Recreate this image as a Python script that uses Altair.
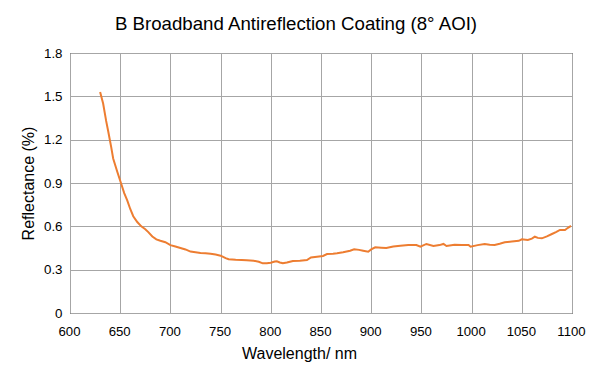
import altair as alt
import pandas as pd

wavelength = [630, 633, 636, 638, 641, 643, 647, 651, 654, 657, 660, 663, 667, 671, 675, 678,
              682, 686, 690, 695, 700, 705, 710, 715, 720, 725, 730, 735, 740, 745, 750, 752,
              755, 758, 765, 771, 776, 783, 788, 792, 796, 800, 804, 806, 809, 812, 816, 822,
              829, 836, 840, 846, 852, 856, 862, 866, 872, 879, 883, 888, 892, 897, 900, 904,
              910, 915, 922, 929, 937, 945, 949, 955, 962, 968, 972, 975, 983, 990, 997, 999,
              1006, 1013, 1018, 1023, 1028, 1033, 1040, 1047, 1050, 1056, 1060, 1063, 1066,
              1070, 1075, 1080, 1084, 1088, 1093, 1096, 1099]
reflectance = [1.53, 1.45, 1.33, 1.26, 1.15, 1.07, 0.98, 0.895, 0.83, 0.78, 0.72, 0.67, 0.63,
               0.60, 0.58, 0.56, 0.53, 0.51, 0.50, 0.49, 0.47, 0.46, 0.45, 0.44, 0.425, 0.42,
               0.415, 0.413, 0.41, 0.405, 0.397, 0.39, 0.38, 0.372, 0.368, 0.367, 0.365, 0.362,
               0.355, 0.344, 0.345, 0.348, 0.357, 0.358, 0.35, 0.344, 0.35, 0.36, 0.362, 0.367,
               0.385, 0.39, 0.395, 0.408, 0.41, 0.413, 0.42, 0.431, 0.441, 0.437, 0.431, 0.424,
               0.44, 0.455, 0.452, 0.45, 0.46, 0.466, 0.47, 0.471, 0.459, 0.478, 0.464, 0.47,
               0.478, 0.464, 0.473, 0.47, 0.471, 0.459, 0.47, 0.478, 0.472, 0.471, 0.48, 0.49,
               0.495, 0.50, 0.51, 0.506, 0.515, 0.528, 0.52, 0.517, 0.53, 0.547, 0.56, 0.575,
               0.575, 0.59, 0.603]

x_ticks = [600, 650, 700, 750, 800, 850, 900, 950, 1000, 1050, 1100]
y_ticks = [0, 0.3, 0.6, 0.9, 1.2, 1.5, 1.8]

df = pd.DataFrame({"wl": wavelength, "r": reflectance})

FONT = "Liberation Sans"

chart = alt.Chart(df).mark_line(color="#ED7D31", strokeWidth=2).encode(
    x=alt.X("wl:Q", scale=alt.Scale(domain=[600, 1100], nice=False, zero=False),
            axis=alt.Axis(values=x_ticks, format="d", title="Wavelength/ nm", grid=True,
                          gridColor="#a6a6a6", domain=False, ticks=False, tickSize=0,
                          labelPadding=12, labelFontSize=13.2, labelColor="#000000",
                          labelOffset=-1,
                          labelFont=FONT, titleFont=FONT, titleFontSize=16,
                          titleFontWeight="normal", titleColor="#000000",
                          titleX=229, titleY=45, titleBaseline="alphabetic",
                          titleAlign="center", labelFlush=False)),
    y=alt.Y("r:Q", scale=alt.Scale(domain=[0, 1.8], nice=False),
            axis=alt.Axis(values=y_ticks, format=".1~f", title="Reflectance (%)",
                          grid=True, gridColor="#a6a6a6", domain=False, ticks=False,
                          tickSize=0, labelPadding=8, labelFontSize=13.33,
                          labelColor="#000000", labelFont=FONT, titleFont=FONT,
                          titleFontSize=16, titleFontWeight="normal", titleColor="#000000",
                          titleX=-37, titleY=130, titleBaseline="alphabetic",
                          titleAlign="center", labelFlush=False)),
).properties(
    width=502,
    height=260,
    title=alt.TitleParams("B Broadband Antireflection Coating (8° AOI)", font=FONT,
                          fontSize=18.67, fontWeight="normal", color="#000000",
                          anchor="middle", dx=-25, offset=-3, baseline="alphabetic"),
    autosize=alt.AutoSizeParams(type="none"),
    padding={"left": 62, "top": 45, "right": 14, "bottom": 62},
    background="#ffffff",
).configure_view(stroke="#000000", strokeWidth=1)

chart.save("out.html", embed_options={"renderer": "svg", "actions": False})
